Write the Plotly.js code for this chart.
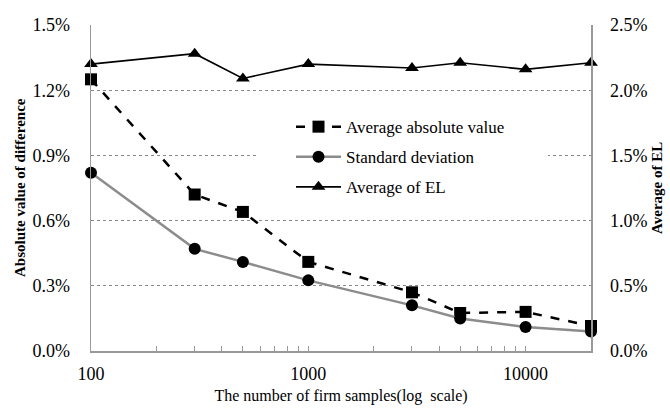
<!DOCTYPE html>
<html>
<head>
<meta charset="utf-8">
<script src="https://cdn.plot.ly/plotly-3.0.1.min.js"></script>
<style>html,body{margin:0;padding:0;background:#fff;}#chart{width:670px;height:408px;}</style>
</head>
<body>
<div id="chart"></div>
<script>
var samples = [100, 300, 500, 1000, 3000, 5000, 10000, 20000];
var avgAbsValue = [0.0125, 0.0072, 0.0064, 0.0041, 0.0027, 0.00175, 0.0018, 0.00115];
var stdDev = [0.0082, 0.0047, 0.0041, 0.00325, 0.0021, 0.0015, 0.0011, 0.0009];
var avgEL = [0.0220, 0.0228, 0.0209, 0.0220, 0.0217, 0.0221, 0.0216, 0.0221];
var seriesNames = ['Average absolute value', 'Standard deviation', 'Average of EL'];
var leftTitle = 'Absolute value of difference';
var rightTitle = 'Average of EL';
var xTitle = 'The number of firm samples(log  scale)';

var font = '"Liberation Serif", "Times New Roman", serif';
var traces = [
  {x: samples, y: avgAbsValue, name: seriesNames[0], type: 'scatter', mode: 'lines+markers',
   legendgroup: 'a', cliponaxis: false,
   line: {color: '#000', width: 2.5, dash: 'dash'}, marker: {symbol: 'square', size: 12, color: '#000'}},
  {x: samples, y: stdDev, name: seriesNames[1], type: 'scatter', mode: 'lines+markers',
   legendgroup: 'b', cliponaxis: false,
   line: {color: '#8c8c8c', width: 2.5}, marker: {symbol: 'circle', size: 12, color: '#000'}},
  {x: samples, y: avgEL, name: seriesNames[2], type: 'scatter', mode: 'lines+markers', yaxis: 'y2',
   legendgroup: 'c', cliponaxis: false,
   line: {color: '#000', width: 1.6}, marker: {symbol: 'triangle-up', size: 12, color: '#000'}}
];

var layout = {
  width: 670, height: 408,
  margin: {l: 91, r: 79, t: 25, b: 57},
  paper_bgcolor: '#fff', plot_bgcolor: '#fff',
  font: {family: font, size: 18, color: '#000'},
  showlegend: true,
  legend: {x: 0.40, y: 0.742, xanchor: 'left', yanchor: 'top', bgcolor: 'rgba(255,255,255,0)',
           font: {family: font, size: 17}, itemwidth: 45, tracegroupgap: 5, traceorder: 'grouped'},
  shapes: [{type: 'rect', xref: 'paper', yref: 'paper', x0: 0.33, x1: 0.914, y0: 0.479, y1: 0.709,
            fillcolor: '#fff', line: {width: 0}, layer: 'above'}],
  annotations: [
    {text: '<b>' + leftTitle + '</b>', xref: 'paper', yref: 'paper', x: -0.142, y: 0.5,
     xanchor: 'center', yanchor: 'middle', textangle: -90, showarrow: false, font: {family: font, size: 15}},
    {text: '<b>' + rightTitle + '</b>', xref: 'paper', yref: 'paper', x: 1.132, y: 0.5,
     xanchor: 'center', yanchor: 'middle', textangle: -90, showarrow: false, font: {family: font, size: 15}}
  ],
  xaxis: {type: 'log', range: [2, Math.log10(20000)],
          tickvals: [100, 1000, 10000], ticktext: ['100', '1000', '10000'],
          ticks: 'inside', ticklen: 5, tickcolor: '#999',
          minor: {dtick: 'D1', ticks: 'inside', ticklen: 5, tickcolor: '#999', showgrid: false},
          showgrid: false, showline: true, linecolor: '#999', linewidth: 1.5, zeroline: false,
          ticklabelstandoff: 6, tickfont: {family: font, size: 18},
          title: {text: xTitle, font: {family: font, size: 16}, standoff: 6}},
  yaxis: {range: [0, 0.015], dtick: 0.003, tick0: 0, tickformat: '.1%',
          showgrid: true, gridcolor: '#888', griddash: 'dot', gridwidth: 1,
          showline: true, linecolor: '#999', linewidth: 1.5, zeroline: false,
          ticks: '', ticklabelstandoff: 16, tickfont: {family: font, size: 18}},
  yaxis2: {overlaying: 'y', side: 'right', range: [0, 0.025], dtick: 0.005, tick0: 0, tickformat: '.1%',
           showgrid: false, showline: true, linecolor: '#999', linewidth: 1.5, zeroline: false,
           ticks: '', ticklabelstandoff: 14, tickfont: {family: font, size: 18}}
};

Plotly.newPlot('chart', traces, layout, {displayModeBar: false, staticPlot: true});
</script>
</body>
</html>
